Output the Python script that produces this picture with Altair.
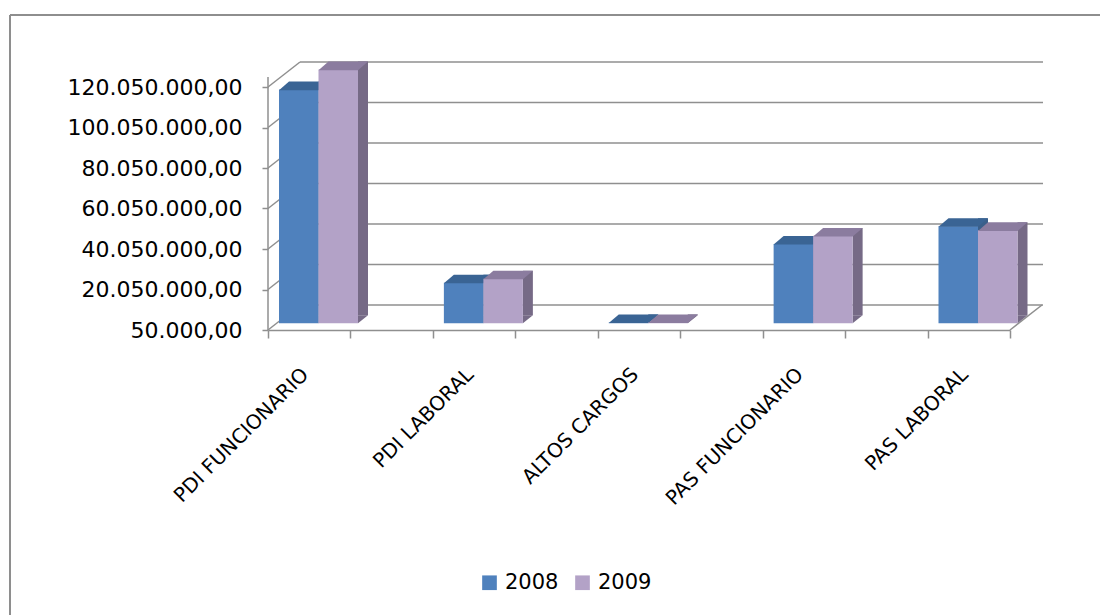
import altair as alt
import pandas as pd

# ---- data -------------------------------------------------------------
categorias = ["PDI FUNCIONARIO", "PDI LABORAL", "ALTOS CARGOS",
              "PAS FUNCIONARIO", "PAS LABORAL"]
anios = ["2008", "2009"]
valores_2008 = [115_450_000, 20_100_000, 500_000, 39_250_000, 48_000_000]
valores_2009 = [125_350_000, 22_050_000, 500_000, 43_150_000, 45_950_000]
marcas_eje = [50_000, 20_050_000, 40_050_000, 60_050_000,
              80_050_000, 100_050_000, 120_050_000]

# ---- geometry of the pseudo-3D box ---------------------------------------
LEFT, TOP = 268, 62            # plot origin inside the page
W, H = 775, 268                # plot area (front axis -> back wall right end)
BASE = 50_000                  # axis minimum, bars start here
PX = 243 / 120_000_000         # pixels per unit
WALL_DX, WALL_DY = 32, 25      # depth of the floor / side wall
BAR_SHIFT = 18.3               # bars sit a bit behind the front edge
BAR_W = 39.5                   # width of one bar
BAR_DX, BAR_DY = 10, 8         # depth of each bar
STEP = 164.875                 # distance between category groups
FIRST_CENTER = 50.5

FONT = "DejaVu Sans"
GRID = "#8f8f8f"
FRONT = {"2008": "#4f81bd", "2009": "#b3a2c7"}
TOPC = {"2008": "#3a6494", "2009": "#8b7c9f"}
SIDE = {"2008": "#3a5f8a", "2009": "#766a86"}

# back-wall scale (gridlines and bars), front scale (labelled axis)
y_back = alt.Scale(domain=[BASE - WALL_DY / PX, BASE + (H - WALL_DY) / PX],
                   zero=False, nice=False)
y_front = alt.Scale(domain=[BASE, BASE + H / PX], zero=False, nice=False)
x_cat = alt.Scale(domain=categorias, paddingInner=0, paddingOuter=0,
                  range=[FIRST_CENTER - STEP / 2,
                         FIRST_CENTER + STEP * (len(categorias) - 1) + STEP / 2])

ticks_df = pd.DataFrame({"v": marcas_eje})

# back wall gridlines
grid = alt.Chart(ticks_df).mark_rule(color=GRID, strokeWidth=1.5).encode(
    y=alt.Y("v:Q", scale=y_back, axis=None),
    x=alt.value(WALL_DX), x2=alt.value(W))

# left side wall lines (front axis -> back wall)
wall = alt.Chart(ticks_df).mark_rule(
    color=GRID, strokeWidth=1.5, yOffset=WALL_DY, y2Offset=0).encode(
    y=alt.Y("v:Q", scale=y_back, axis=None), y2="v:Q",
    x=alt.value(0), x2=alt.value(WALL_DX))

# floor front edge with its ticks, plus the right floor edge
floor = alt.Chart(pd.DataFrame({"p": [9]})).mark_rule(
    color=GRID, strokeWidth=1.5, x2Offset=WALL_DX, y2Offset=-WALL_DY).encode(
    x=alt.X("p:Q", scale=alt.Scale(domain=[0, 9], range=[0, 742]),
            axis=alt.Axis(values=list(range(10)), labels=False, ticks=True,
                          tickSize=8, tickColor=GRID, tickWidth=1.5,
                          domain=True, domainColor=GRID, domainWidth=1.5,
                          grid=False, title=None, orient="bottom")),
    x2="p:Q", y=alt.value(H), y2=alt.value(H))

color_scale = alt.Scale(domain=anios, range=[FRONT[a] for a in anios])
legend = alt.Legend(orient="none", legendX=211, legendY=510,
                    direction="horizontal", title=None, symbolType="square",
                    symbolSize=215, symbolStrokeWidth=0, labelFont=FONT,
                    labelFontSize=21, labelColor="black", labelOffset=5,
                    columnPadding=13, padding=0)

cat_axis = alt.Axis(labelAngle=-45, labelAlign="right", labelBaseline="middle",
                    labelFont=FONT, labelFontSize=20, labelColor="black",
                    labelPadding=41, labelOffset=-13, ticks=False, domain=False,
                    grid=False, title=None, orient="bottom", labelLimit=400)


def bar_layers(anio, valores, offset, with_axis):
    df = pd.DataFrame({"categoria": categorias, "valor": valores, "año": anio})
    x = alt.X("categoria:N", scale=x_cat, axis=cat_axis if with_axis else None)
    y = alt.Y("valor:Q", scale=y_back, axis=None)
    right = offset + BAR_W / 2

    side = alt.Chart(df).mark_bar(
        width=BAR_DX, color=SIDE[anio], xOffset=right + BAR_DX / 2,
        yOffset=BAR_SHIFT - BAR_DY, y2Offset=BAR_SHIFT - BAR_DY).encode(
        x=alt.X("categoria:N", scale=x_cat, axis=None), y=y,
        y2=alt.datum(BASE))

    side_foot = alt.Chart(df).mark_point(
        shape=f"M0,0 L{BAR_DX},{-BAR_DY} L0,{-BAR_DY} Z", size=4, filled=True,
        opacity=1, color=SIDE[anio], strokeWidth=0, xOffset=right,
        yOffset=BAR_SHIFT).encode(
        x=alt.X("categoria:N", scale=x_cat, axis=None),
        y=alt.YDatum(BASE, scale=y_back, axis=None))

    front = alt.Chart(df).mark_bar(
        width=BAR_W, xOffset=offset, yOffset=BAR_SHIFT, y2Offset=BAR_SHIFT,
        opacity=1).encode(
        x=x, y=y, y2=alt.datum(BASE),
        color=alt.Color("año:N", scale=color_scale, legend=legend))

    hw = BAR_W / 2
    top_path = (f"M{-hw},0.6 L{hw},0.6 L{hw + BAR_DX},{-BAR_DY} "
                f"L{-hw + BAR_DX},{-BAR_DY} Z")
    top = alt.Chart(df).mark_point(
        shape=top_path, size=4, filled=True, opacity=1, color=TOPC[anio],
        strokeWidth=0, xOffset=offset, yOffset=BAR_SHIFT).encode(
        x=alt.X("categoria:N", scale=x_cat, axis=None), y=y)
    return [side, side_foot, front, top]


bars = (bar_layers("2008", valores_2008, -BAR_W / 2, True)
        + bar_layers("2009", valores_2009, BAR_W / 2, False))

# labelled front value axis and its vertical line
fmt = ("replace(replace(replace(format(datum.value, ',.2f'), "
       "regexp(',', 'g'), '#'), regexp('[.]', 'g'), ','), regexp('#', 'g'), '.')")
front_axis = alt.Chart(pd.DataFrame({"v": [BASE]})).mark_rule(
    color=GRID, strokeWidth=1.5).encode(
    x=alt.value(0),
    y=alt.Y("v:Q", scale=y_front,
            axis=alt.Axis(values=marcas_eje, labelExpr=fmt, labelFont=FONT,
                          labelFontSize=22, labelColor="black", tickSize=6,
                          tickColor=GRID, tickWidth=1.5, labelPadding=20,
                          domain=False, grid=False, title=None, orient="left")),
    y2=alt.value(15))

# outer frame of the chart
frame = alt.Chart(pd.DataFrame({"f": [0]})).mark_rule(
    color="#8e8e8e", strokeWidth=2).encode(
    x=alt.value(10 - LEFT), x2=alt.value(1110 - LEFT),
    y=alt.value(15 - TOP), y2=alt.value(15 - TOP))
frame_left = alt.Chart(pd.DataFrame({"f": [0]})).mark_rule(
    color="#8e8e8e", strokeWidth=2).encode(
    x=alt.value(10 - LEFT), x2=alt.value(10 - LEFT),
    y=alt.value(15 - TOP), y2=alt.value(625 - TOP))

chart = alt.layer(frame, frame_left, grid, wall, floor, *bars, front_axis).resolve_scale(
    x="independent", y="independent"
).properties(
    width=W, height=H,
    autosize=alt.AutoSizeParams(type="none"),
    padding={"left": LEFT, "top": TOP, "right": 1100 - LEFT - W,
             "bottom": 615 - TOP - H},
    background="white",
).configure_view(strokeWidth=0)

chart.save("out.html", embed_options={"renderer": "svg", "actions": False})
